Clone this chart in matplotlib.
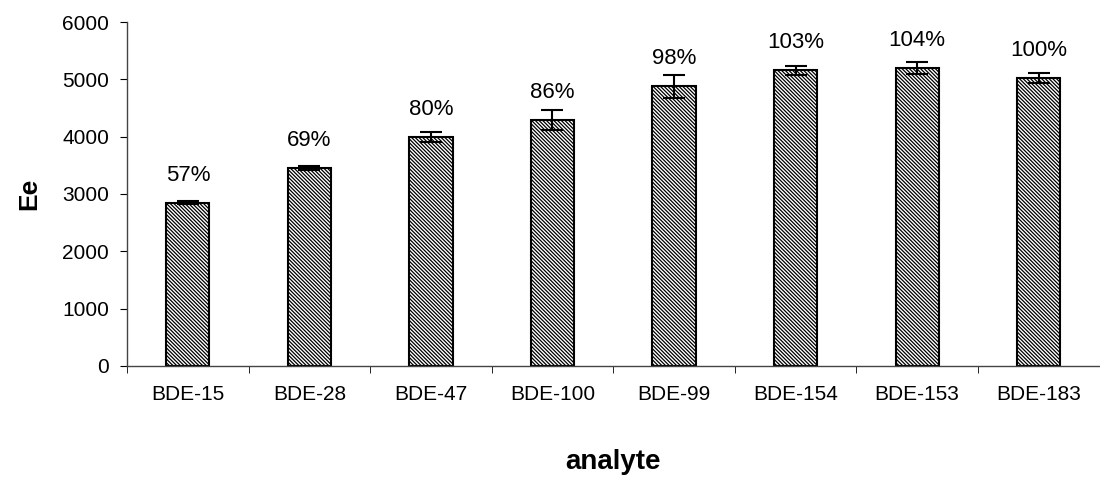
import matplotlib
matplotlib.use("Agg")
import matplotlib.pyplot as plt
import numpy as np

analytes = ["BDE-15", "BDE-28", "BDE-47", "BDE-100", "BDE-99", "BDE-154", "BDE-153", "BDE-183"]
ee = [2850, 3450, 4000, 4290, 4880, 5160, 5200, 5020]
ee_err = [20, 30, 90, 170, 200, 80, 100, 90]
recovery = ["57%", "69%", "80%", "86%", "98%", "103%", "104%", "100%"]

plt.rcParams['font.family'] = ['Liberation Sans', 'DejaVu Sans']
plt.rcParams['hatch.color'] = '#333333'
plt.rcParams['hatch.linewidth'] = 0.9

fig = plt.figure(figsize=(11, 4.79), dpi=100)
ax = fig.add_axes([0.1155, 0.236, 0.884, 0.718])

x = np.arange(len(analytes))
ax.bar(x, ee, width=0.355, color='white', edgecolor='black', linewidth=1.5,
       hatch='\\' * 9, zorder=2)
ax.errorbar(x, ee, yerr=ee_err, fmt='none', ecolor='black', elinewidth=1.5,
            capsize=8, capthick=1.5, zorder=3)

# recovery percentages above each bar
for xi, v, lab in zip(x, ee, recovery):
    ax.text(xi, v + 480, lab, ha='center', va='center', fontsize=16)

ax.set_xlim(-0.5, len(analytes) - 0.5)
ax.set_ylim(0, 6000)
ax.set_yticks(range(0, 6001, 1000))
ax.tick_params(axis='y', labelsize=15, length=5, direction='out', pad=8)

ax.set_xticks(x)
ax.set_xticklabels(analytes)
ax.set_xticks(np.arange(-0.5, len(analytes) - 0.5, 1), minor=True)
ax.tick_params(axis='x', which='major', length=0, labelsize=15, pad=14)
ax.tick_params(axis='x', which='minor', length=5, direction='out')

for s in ['top', 'right']:
    ax.spines[s].set_visible(False)
for s in ['left', 'bottom']:
    ax.spines[s].set_color('#444444')
    ax.spines[s].set_linewidth(1.0)

ax.set_ylabel("Ee", fontsize=19, fontweight='bold', labelpad=15)
ax.set_xlabel("analyte", fontsize=20, fontweight='bold', labelpad=32)

fig.savefig("out.png", dpi=100)
